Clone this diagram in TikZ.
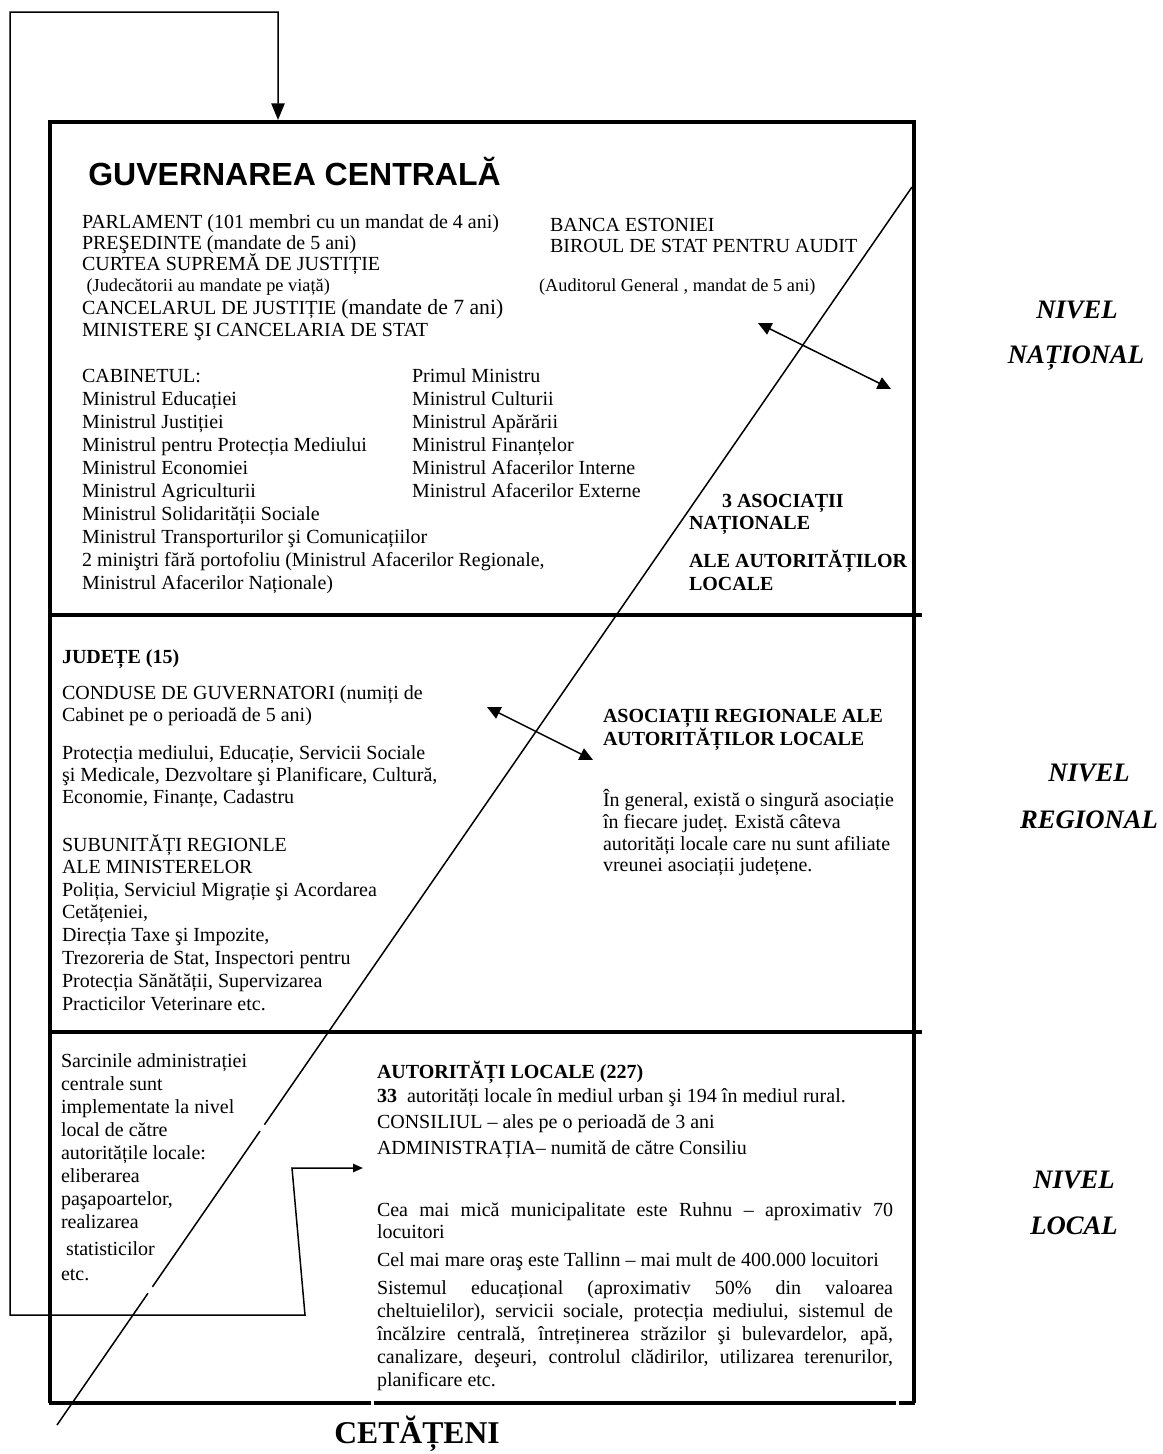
\documentclass[tikz,border=0pt]{standalone}
\usepackage{fontspec}
\setmainfont{Liberation Serif}
\newfontfamily\headfont{Liberation Sans}
\usetikzlibrary{arrows.meta,calc}
% one line of text, placed by its baseline start
\newcommand\TL[4][]{\node[txt,#1] (#2) at #3 {#4};}
% a justified line of the local-authorities paragraph
\newcommand\JL[1]{\makebox[309.6pt][s]{#1}}
\begin{document}
\begin{tikzpicture}[x=0.6pt,y=-0.6pt,
  txt/.style={anchor=base west,inner sep=0pt,outer sep=0pt,font=\fontsize{12}{14}\selectfont},
  smalltxt/.style={font=\fontsize{11}{13}\selectfont},
  boldtxt/.style={font=\fontsize{12}{14}\selectfont\bfseries},
  level/.style={anchor=base,inner sep=0pt,outer sep=0pt,font=\fontsize{16}{19}\selectfont\bfseries\itshape},
  frame/.style={line width=2.4pt},
  divider/.style={line width=2.7pt},
  thinline/.style={line width=0.9pt},
  dbl/.style={thinline,{Triangle[length=8pt,width=7.5pt]}-{Triangle[length=8pt,width=7.5pt]}},
]
\useasboundingbox (0,0) rectangle (1163,1454);

% ---------- outer frame and level dividers ----------
\coordinate (tl) at (50,122);
\coordinate (tr) at (914,122);
\coordinate (bl) at (50,1403);
\coordinate (br) at (914,1403);
\draw[frame,line join=miter] (bl) -- (tl) -- (tr) -- (br);
\draw[frame] (48.8,1403) -- (371,1403);
\draw[frame] (374,1403) -- (896,1403);
\draw[frame] (899,1403) -- (915.2,1403);
\coordinate (d1a) at (50,615);  \coordinate (d1b) at (922,615);
\coordinate (d2a) at (50,1032); \coordinate (d2b) at (922,1032);
\draw[divider] (d1a) -- (d1b);
\draw[divider] (d2a) -- (d2b);

% ---------- diagonal ----------
\coordinate (dA) at (57,1425);
\coordinate (dB) at (912,187);
\draw[thinline] (dA) -- (dB);
\draw[white,line width=2.5pt] ($(dA)!0.2375!(dB)$) -- ($(dA)!0.2425!(dB)$);
\draw[white,line width=2.5pt] ($(dA)!0.1065!(dB)$) -- ($(dA)!0.1115!(dB)$);

% ---------- feedback loop ----------
\coordinate (locTip) at (363,1168);
\coordinate (fbBend) at (292,1168);
\coordinate (fbKnee) at (305,1315);
\coordinate (fbLow) at (10,1315);
\coordinate (fbCorner) at (10,12);
\coordinate (fbTop) at (278,12);
\coordinate (fbTip) at (278,120);
\draw[thinline,line join=miter,{Triangle[length=6pt,width=5pt]}-{Triangle[length=10pt,width=8pt]}]
  (locTip) -- (fbBend) -- (fbKnee) -- (fbLow) -- (fbCorner) -- (fbTop) -- (fbTip);

% ---------- associations arrows ----------
\coordinate (natA) at (758,323);
\coordinate (natB) at (891,389);
\draw[dbl] (natA) -- (natB);
\coordinate (regA) at (487,707);
\coordinate (regB) at (593,760);
\draw[dbl] (regA) -- (regB);

% ---------- national level ----------
\node[anchor=base west,inner sep=0pt,font=\headfont\bfseries\fontsize{19.2}{23}\selectfont] (title) at (88,185) {GUVERNAREA CENTRALĂ};
\TL{parl}{(82,228)}{PARLAMENT (101 membri cu un mandat de 4 ani)}
\TL{pres}{(82,249)}{PREŞEDINTE (mandate de 5 ani)}
\TL{curte}{(82,270)}{CURTEA SUPREMĂ DE JUSTIȚIE}
\TL[smalltxt]{jud}{(82,291)}{\ (Judecătorii au mandate pe viață)}
\TL{canc}{(82,314)}{CANCELARUL DE JUSTIȚIE {\fontsize{13}{15}\selectfont(mandate de 7 ani)}}
\TL{min}{(82,336)}{MINISTERE ŞI CANCELARIA DE STAT}
\TL{banca}{(550,231)}{BANCA ESTONIEI}
\TL{birou}{(550,252)}{BIROUL DE STAT PENTRU AUDIT}
\TL[smalltxt]{audit}{(539,291)}{(Auditorul General , mandat de 5 ani)}

\TL{cab0}{(82,382)}{CABINETUL:}
\TL{cab1}{(82,405)}{Ministrul Educației}
\TL{cab2}{(82,428)}{Ministrul Justiției}
\TL{cab3}{(82,451)}{Ministrul pentru Protecția Mediului}
\TL{cab4}{(82,474)}{Ministrul Economiei}
\TL{cab5}{(82,497)}{Ministrul Agriculturii}
\TL{cab6}{(82,520)}{Ministrul Solidarității Sociale}
\TL{cab7}{(82,543)}{Ministrul Transporturilor şi Comunicațiilor}
\TL{cab8}{(82,566)}{2 miniştri fără portofoliu (Ministrul Afacerilor Regionale,}
\TL{cab9}{(82,589)}{Ministrul Afacerilor Naționale)}
\TL{pm0}{(412,382)}{Primul Ministru}
\TL{pm1}{(412,405)}{Ministrul Culturii}
\TL{pm2}{(412,428)}{Ministrul Apărării}
\TL{pm3}{(412,451)}{Ministrul Finanțelor}
\TL{pm4}{(412,474)}{Ministrul Afacerilor Interne}
\TL{pm5}{(412,497)}{Ministrul Afacerilor Externe}

\TL[boldtxt]{nas1}{(722,507)}{3 ASOCIAȚII}
\TL[boldtxt]{nas2}{(689,529)}{NAȚIONALE}
\TL[boldtxt]{nas3}{(689,567)}{ALE AUTORITĂȚILOR}
\TL[boldtxt]{nas4}{(689,590)}{LOCALE}

% ---------- regional level ----------
\TL[boldtxt]{jude}{(62,663)}{JUDEȚE (15)}
\TL{r1}{(62,699)}{CONDUSE DE GUVERNATORI (numiți de}
\TL{r2}{(62,721)}{Cabinet pe o perioadă de 5 ani)}
\TL{r3}{(62,759)}{Protecția mediului, Educație, Servicii Sociale}
\TL{r4}{(62,781)}{şi Medicale, Dezvoltare şi Planificare, Cultură,}
\TL{r5}{(62,803)}{Economie, Finanțe, Cadastru}
\TL{r6}{(62,851)}{SUBUNITĂȚI REGIONLE}
\TL{r7}{(62,873)}{ALE MINISTERELOR}
\TL{r8}{(62,896)}{Poliția, Serviciul Migrație şi Acordarea}
\TL{r9}{(62,918)}{Cetățeniei,}
\TL{r10}{(62,941)}{Direcția Taxe şi Impozite,}
\TL{r11}{(62,964)}{Trezoreria de Stat, Inspectori pentru}
\TL{r12}{(62,987)}{Protecția Sănătății, Supervizarea}
\TL{r13}{(62,1010)}{Practicilor Veterinare etc.}

\TL[boldtxt]{ra1}{(603,722)}{ASOCIAȚII REGIONALE ALE}
\TL[boldtxt]{ra2}{(603,745)}{AUTORITĂȚILOR LOCALE}
\TL{ra3}{(603,806)}{În general, există o singură asociație}
\TL{ra4}{(603,828)}{în fiecare județ. Există câteva}
\TL{ra5}{(603,850)}{autorități locale care nu sunt afiliate}
\TL{ra6}{(603,871)}{vreunei asociații județene.}

% ---------- local level ----------
\TL{s1}{(61,1067)}{Sarcinile administrației}
\TL{s2}{(61,1090)}{centrale sunt}
\TL{s3}{(61,1113)}{implementate la nivel}
\TL{s4}{(61,1136)}{local de către}
\TL{s5}{(61,1159)}{autoritățile locale:}
\TL{s6}{(61,1182)}{eliberarea}
\TL{s7}{(61,1205)}{paşapoartelor,}
\TL{s8}{(61,1228)}{realizarea}
\TL{s9}{(61,1255)}{\ statisticilor}
\TL{s10}{(61,1280)}{etc.}

\TL[boldtxt]{la0}{(377,1078)}{AUTORITĂȚI LOCALE (227)}
\TL{la1}{(377,1102)}{\textbf{33}\ \ autorități locale în mediul urban şi 194 în mediul rural.}
\TL{la2}{(377,1128)}{CONSILIUL – ales pe o perioadă de 3 ani}
\TL{la3}{(377,1154)}{ADMINISTRAȚIA– numită de către Consiliu}
\TL{la4}{(377,1216)}{\JL{Cea mai mică municipalitate este Ruhnu – aproximativ 70}}
\TL{la5}{(377,1238)}{locuitori}
\TL{la6}{(377,1266)}{Cel mai mare oraş este Tallinn – mai mult de 400.000 locuitori}
\TL{la7}{(377,1294)}{\JL{Sistemul educațional (aproximativ 50\% din valoarea}}
\TL{la8}{(377,1317)}{\JL{cheltuielilor), servicii sociale, protecția mediului, sistemul de}}
\TL{la9}{(377,1340)}{\JL{încălzire centrală, întreținerea străzilor şi bulevardelor, apă,}}
\TL{la10}{(377,1363)}{\JL{canalizare, deşeuri, controlul clădirilor, utilizarea terenurilor,}}
\TL{la11}{(377,1386)}{planificare etc.}

% ---------- level labels ----------
\node[level] (nv1) at (1077,318) {NIVEL};
\node[level] (nv1b) at (1076,363) {NAȚIONAL};
\node[level] (nv2) at (1089,781) {NIVEL};
\node[level] (nv2b) at (1089,828) {REGIONAL};
\node[level] (nv3) at (1074,1188) {NIVEL};
\node[level] (nv3b) at (1074,1234) {LOCAL};

% ---------- citizens ----------
\node[anchor=base west,inner sep=0pt,font=\fontsize{19}{23}\selectfont\bfseries] (cit) at (334,1443) {CETĂȚENI};
\end{tikzpicture}
\end{document}
